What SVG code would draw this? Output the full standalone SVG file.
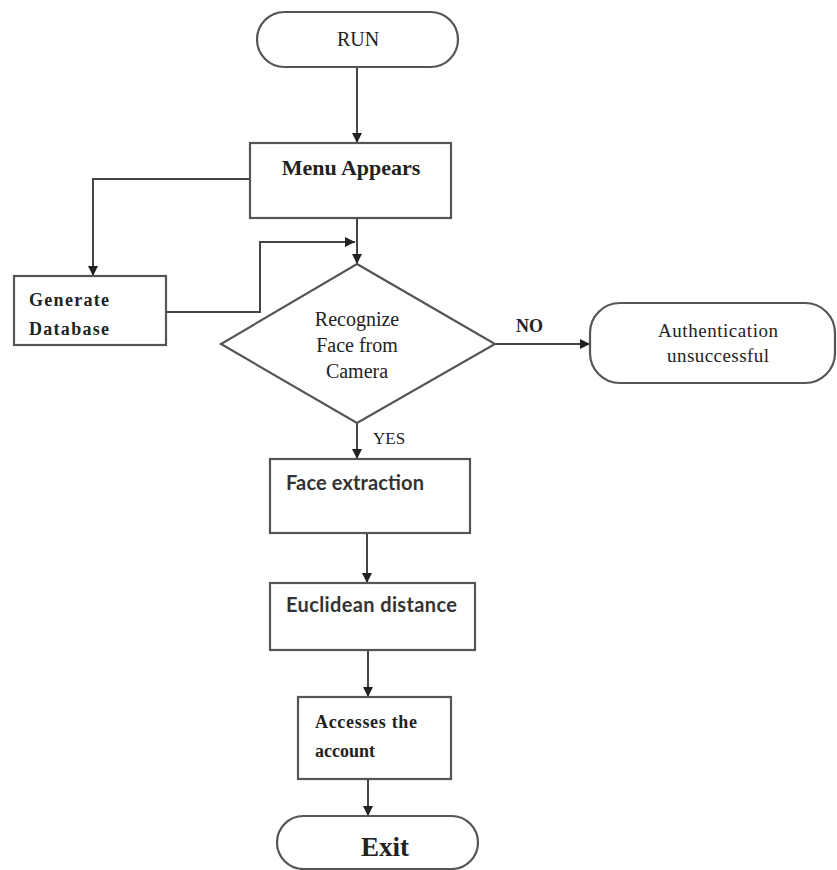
<svg xmlns="http://www.w3.org/2000/svg" width="837" height="870" viewBox="0 0 837 870">
<defs>
<marker id="arr" viewBox="0 0 10 10" refX="10" refY="5" markerWidth="10" markerHeight="10" markerUnits="userSpaceOnUse" orient="auto">
<path d="M0,0 L10,5 L0,10 Z" fill="#222"/>
</marker>
<style>
.shape{fill:#fff;stroke:#555;stroke-width:2.2}
.conn{fill:none;stroke:#444;stroke-width:2;marker-end:url(#arr)}
.serif{font-family:"Liberation Serif","Times New Roman",serif;fill:#222}
.sans{font-family:Lato,"Open Sans",sans-serif;fill:#333;font-weight:bold}
.b{font-weight:bold}
</style>
</defs>
<rect width="837" height="870" fill="#fff"/>
<g id="connectors">
<path class="conn" d="M357,67 L357,143"/>
<path class="conn" d="M250,179 L93,179 L93,276"/>
<path class="conn" d="M166,312 L260,312 L260,242 L355,242"/>
<path class="conn" d="M357,218 L357,264"/>
<path class="conn" d="M495,344 L590,344"/>
<path class="conn" d="M357,423 L357,459"/>
<path class="conn" d="M367,533 L367,583"/>
<path class="conn" d="M368,650 L368,697"/>
<path class="conn" d="M368,779 L368,816"/>
<text class="serif b" x="516" y="332" font-size="18">NO</text>
<text class="serif" x="373" y="444" font-size="17">YES</text>
</g>
<g id="run">
<rect class="shape" x="257" y="12" width="201" height="55" rx="27.5"/>
<text class="serif" x="358" y="46" font-size="20" text-anchor="middle">RUN</text>
</g>
<g id="menu">
<rect class="shape" x="250" y="143" width="201" height="75"/>
<text class="serif b" x="351" y="175" font-size="22" text-anchor="middle">Menu Appears</text>
</g>
<g id="generate">
<rect class="shape" x="14" y="276" width="152" height="69"/>
<text class="serif b" x="29" y="306" font-size="18" textLength="80">Generate</text>
<text class="serif b" x="29" y="335" font-size="18" textLength="80">Database</text>
</g>
<g id="recognize">
<polygon class="shape" points="357,264 495,344 357,423 221,344"/>
<text class="serif" x="357" y="326" font-size="20" text-anchor="middle">Recognize</text>
<text class="serif" x="357" y="352" font-size="20" text-anchor="middle">Face from</text>
<text class="serif" x="357" y="378" font-size="20" text-anchor="middle">Camera</text>
</g>
<g id="auth">
<rect class="shape" x="590" y="303" width="245" height="80" rx="30"/>
<text class="serif" x="718" y="337" font-size="19" text-anchor="middle" textLength="120">Authentication</text>
<text class="serif" x="718" y="362" font-size="19" text-anchor="middle" textLength="102">unsuccessful</text>
</g>
<g id="face">
<rect class="shape" x="270" y="459" width="200" height="74"/>
<text class="sans" x="286" y="490" font-size="20" textLength="138">Face extraction</text>
</g>
<g id="euclid">
<rect class="shape" x="270" y="583" width="205" height="67"/>
<text class="sans" x="286" y="612" font-size="20" textLength="171">Euclidean distance</text>
</g>
<g id="access">
<rect class="shape" x="298" y="697" width="153" height="82"/>
<text class="serif b" x="315" y="728" font-size="18" textLength="102">Accesses the</text>
<text class="serif b" x="315" y="757" font-size="18">account</text>
</g>
<g id="exit">
<rect class="shape" x="277" y="816" width="201" height="53" rx="26.5"/>
<text class="serif b" x="385" y="856" font-size="27" text-anchor="middle">Exit</text>
</g>
</svg>
